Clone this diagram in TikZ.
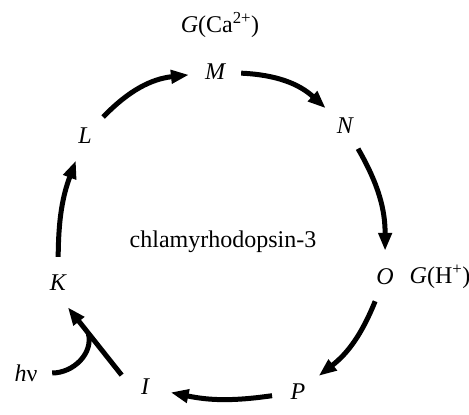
\documentclass[tikz,border=0pt]{standalone}
\usepackage{fontspec}
\setmainfont{Liberation Serif}
\usetikzlibrary{arrows.meta,calc}
\tikzset{>={Triangle[length=18pt,width=13pt]}}

\begin{document}
\begin{tikzpicture}[x=1pt,y=1pt]
  \tikzset{
    state/.style={circle, minimum size=52pt, inner sep=0pt,
      font=\fontsize{24}{28}\selectfont\itshape},
    lab/.style={inner sep=0pt, font=\fontsize{24}{28}\selectfont},
    flow/.style={->, line width=5pt}
  }
  \useasboundingbox (0,0) rectangle (469,415);

  \node[state] (M) at (215,343) {M};
  \node[state] (N) at (345,289) {N};
  \node[state] (O) at (385,138) {O};
  \node[state] (P) at (298,23)  {P};
  \node[state] (I) at (145,28)  {I};
  \node[state] (K) at (58,132)  {K};
  \node[state] (L) at (85,279)  {L};
  \node[state, font=\fontsize{24}{28}\selectfont] (hv) at (26,42) {\textit{h}ν};

  \node[lab] (gca) at (220,390) {\textit{G}(Ca\textsuperscript{2+})};
  \node[lab] (gh)  at (440,138) {\textit{G}(H\textsuperscript{+})};
  \node[lab] (name) at (223,173) {chlamyrhodopsin-3};

  \foreach \a/\b/\c in {L/M/20,M/N/20,N/O/15,O/P/15,P/I/10,K/L/10}{
    \draw[flow] (\a) to[bend left=\c] (\b);
  }
  \draw[flow] (I.153) -- (K.-68);
  \coordinate (join) at ($(I.153)!0.62!(K.-68)$);
  \draw[line width=5pt] (hv.east) to[out=0,in=-75] (join);
\end{tikzpicture}
\end{document}
